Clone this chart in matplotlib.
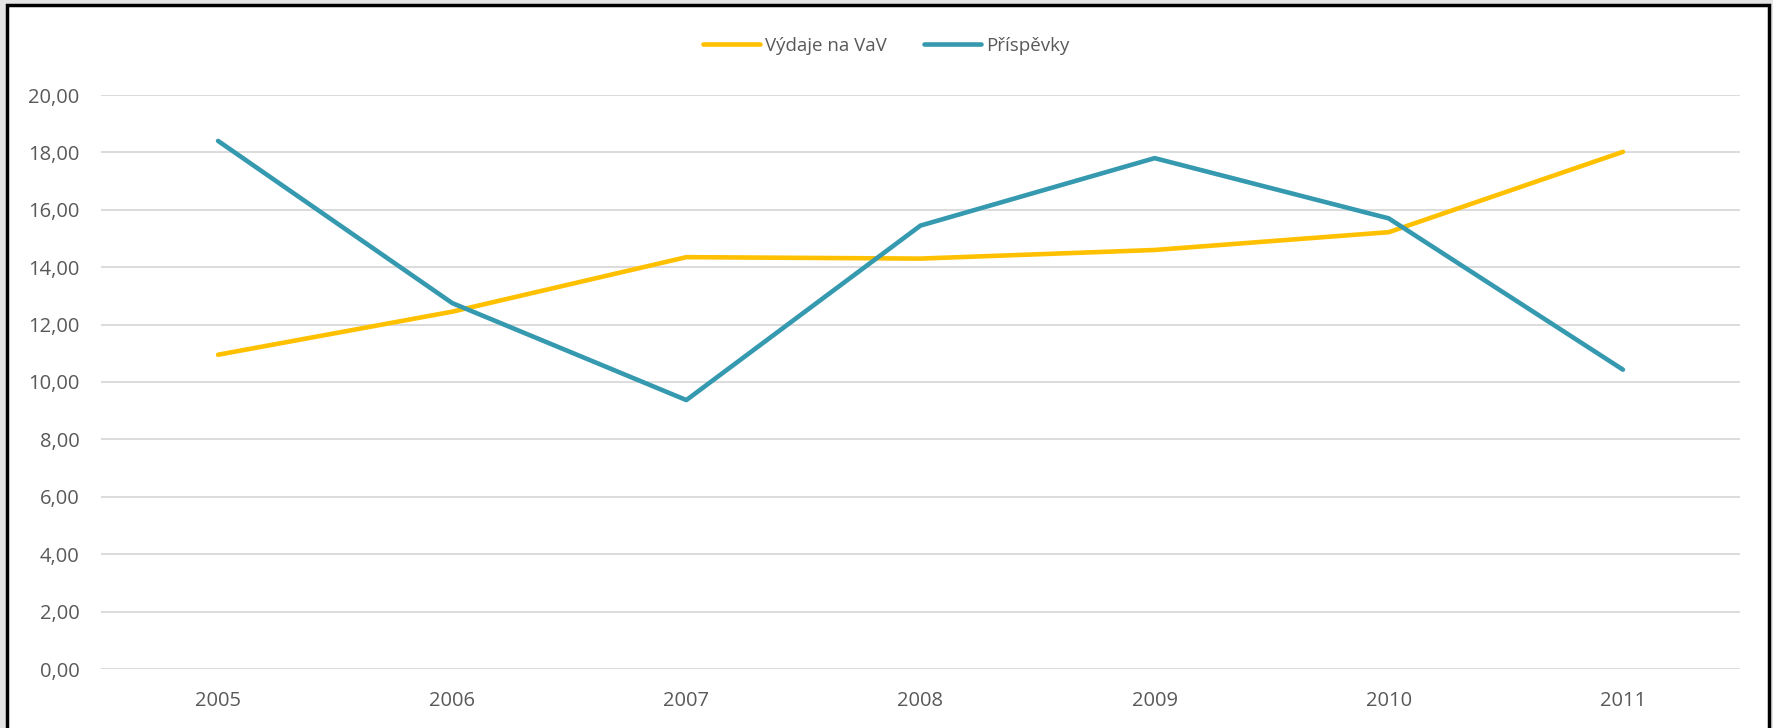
import numpy as np
import matplotlib.pyplot as plt
from matplotlib.patches import Rectangle
from matplotlib.ticker import FuncFormatter

plt.rcParams['font.family'] = ['Open Sans', 'DejaVu Sans']

# data
years = ['2005', '2006', '2007', '2008', '2009', '2010', '2011']
vydaje = [10.95, 12.45, 14.35, 14.30, 14.60, 15.22, 18.02]
prispevky = [18.40, 12.75, 9.37, 15.45, 17.80, 15.70, 10.43]
yticks = np.arange(0, 21, 2)

W, H = 1773, 728
fig = plt.figure(figsize=(W / 100, H / 100), dpi=100, facecolor='#E4E4E4')

# chart frame (white area with black border), behind the axes
frame = Rectangle((7 / W, -0.05), (1769 - 7) / W, 1 - 5 / H + 0.05,
                  transform=fig.transFigure, facecolor='white',
                  edgecolor='black', linewidth=2.5, zorder=-10)
fig.patches.append(frame)

ax = fig.add_axes([101 / W, 1 - 669 / H, (1740 - 101) / W, (669 - 95) / H])
ax.set_facecolor('none')
ax.set_zorder(1)

x = np.arange(len(years))
ax.plot(x, vydaje, color='#FFC000', lw=3.3, solid_capstyle='round',
        label='Výdaje na VaV', zorder=3)
ax.plot(x, prispevky, color='#3599AF', lw=3.3, solid_capstyle='round',
        label='Příspěvky', zorder=3)

ax.set_xlim(-0.5, len(years) - 0.5)
ax.set_ylim(0, 20)
ax.set_yticks(yticks)
ax.yaxis.set_major_formatter(FuncFormatter(lambda v, p: f'{v:.2f}'.replace('.', ',')))
ax.set_xticks(x)
ax.set_xticklabels(years)
ax.grid(axis='y', color='#D9D9D9', lw=1.3)
ax.set_axisbelow(True)
for s in ax.spines.values():
    s.set_visible(False)
ax.tick_params(length=0, labelsize=14.5, labelcolor='#595959')
ax.tick_params(axis='y', pad=15.5)
ax.tick_params(axis='x', pad=16)

leg = fig.legend(loc='center', bbox_to_anchor=(0.5, 1 - 46 / H), ncol=2,
                 frameon=False, fontsize=13.5, handlelength=3.0,
                 handletextpad=0.3, columnspacing=2.0)
leg.set_zorder(2)
for t in leg.get_texts():
    t.set_color('#595959')

fig.savefig('out.png', dpi=100, facecolor=fig.get_facecolor())
